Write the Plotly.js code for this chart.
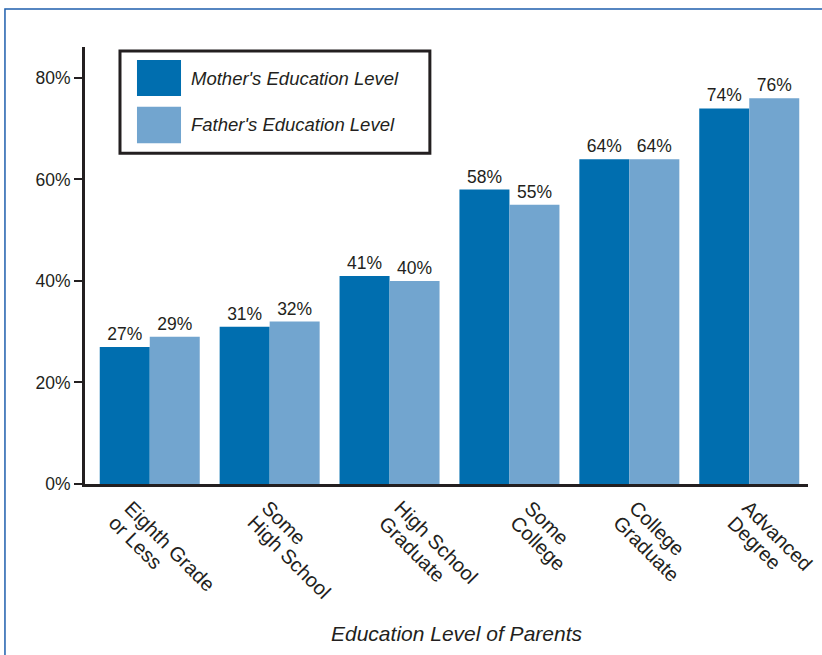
<!DOCTYPE html>
<html>
<head>
<meta charset="utf-8">
<script src="https://cdn.plot.ly/plotly-3.0.1.min.js"></script>
<style>
html,body{margin:0;padding:0;background:#fff;}
#chart{width:822px;height:655px;}
</style>
</head>
<body>
<div id="chart"></div>
<script>
var categories = [["Eighth Grade", "or Less"], ["Some", "High School"], ["High School", "Graduate"], ["Some", "College"], ["College", "Graduate"], ["Advanced", "Degree"]];
var seriesNames = ["Mother's Education Level", "Father's Education Level"];
var motherValues = [27, 31, 41, 58, 64, 74];
var fatherValues = [29, 32, 40, 55, 64, 76];
var seriesColors = ["#006eaf", "#72a5cf"];
var yTickVals = [0, 20, 40, 60, 80];
var yTickText = ["0%", "20%", "40%", "60%", "80%"];
var xTitle = "Education Level of Parents";

var ink = "#231f20";
var font = "Liberation Sans, Arial, Helvetica, sans-serif";
var idx = categories.map(function(c, i){ return i; });

function barTrace(vals, name, color){
  return {
    type: "bar", x: idx, y: vals, name: name,
    marker: {color: color, line: {width: 0}},
    text: vals.map(function(v){ return v + "%"; }),
    textposition: "outside",
    textfont: {family: font, size: 17.5, color: ink},
    cliponaxis: false, hoverinfo: "skip", showlegend: false
  };
}
var data = [
  barTrace(motherValues, seriesNames[0], seriesColors[0]),
  barTrace(fatherValues, seriesNames[1], seriesColors[1])
];

var shapes = [
  {type: "rect", xref: "paper", yref: "paper", x0: -0.1107, x1: 1.030, y0: -0.4325, y1: 1.087,
   line: {color: "#1f5fad", width: 1.5}, fillcolor: "rgba(0,0,0,0)", layer: "below"},
  {type: "rect", xref: "paper", yref: "paper", x0: 0.0484, x1: 0.477, y0: 0.757, y1: 0.991,
   line: {color: ink, width: 3}, fillcolor: "#fff"},
  {type: "rect", xref: "paper", yref: "paper", x0: 0.0719, x1: 0.1328, y0: 0.888, y1: 0.970,
   line: {width: 0}, fillcolor: seriesColors[0]},
  {type: "rect", xref: "paper", yref: "paper", x0: 0.0719, x1: 0.1328, y0: 0.780, y1: 0.863,
   line: {width: 0}, fillcolor: seriesColors[1]}
];
var annotations = [
  {xref: "paper", yref: "paper", x: 0.1438, y: 0.929, xanchor: "left", yanchor: "middle",
   text: "<i>" + seriesNames[0] + "</i>", showarrow: false, font: {family: font, size: 18.5, color: ink}},
  {xref: "paper", yref: "paper", x: 0.1438, y: 0.822, xanchor: "left", yanchor: "middle",
   text: "<i>" + seriesNames[1] + "</i>", showarrow: false, font: {family: font, size: 18.5, color: ink}},
  {xref: "paper", yref: "paper", x: 0.514, y: -0.343, xanchor: "center", yanchor: "middle",
   text: "<i>" + xTitle + "</i>", showarrow: false, font: {family: font, size: 21, color: ink}}
];

// rotated category labels (one annotation per line), hand-nudged like the original
var labelNudge = [-23, -5, 7, 18, 2, -4];
categories.forEach(function(lines, i){
  lines.forEach(function(line, j){
    annotations.push({
      xref: "x", yref: "paper", x: i, y: 0,
      xanchor: "left", yanchor: "top", textangle: 45, borderpad: 0,
      xshift: labelNudge[i] - 8 - 15 * j,
      yshift: -11 - 15 * j,
      text: line, showarrow: false,
      font: {family: font, size: 20, color: ink}
    });
  });
});

var layout = {
  width: 822, height: 655,
  margin: {l: 85, r: 14, t: 47, b: 171},
  paper_bgcolor: "#fff", plot_bgcolor: "#fff",
  barmode: "group", bargap: 0.166, bargroupgap: 0,
  showlegend: false,
  font: {family: font, color: ink},
  xaxis: {
    range: [-0.54, 5.49], tickvals: idx, showticklabels: false,
    showline: true, linecolor: ink, linewidth: 3, ticks: "", showgrid: false, zeroline: false,
    automargin: false
  },
  yaxis: {
    range: [0, 86.1], tickvals: yTickVals, ticktext: yTickText,
    tickfont: {family: font, size: 17.5, color: ink},
    ticks: "outside", ticklen: 8, tickwidth: 2, tickcolor: ink,
    showline: true, linecolor: ink, linewidth: 3, showgrid: false, zeroline: false,
    automargin: false
  },
  shapes: shapes,
  annotations: annotations
};

Plotly.newPlot("chart", data, layout, {displayModeBar: false, staticPlot: true});
</script>
</body>
</html>
